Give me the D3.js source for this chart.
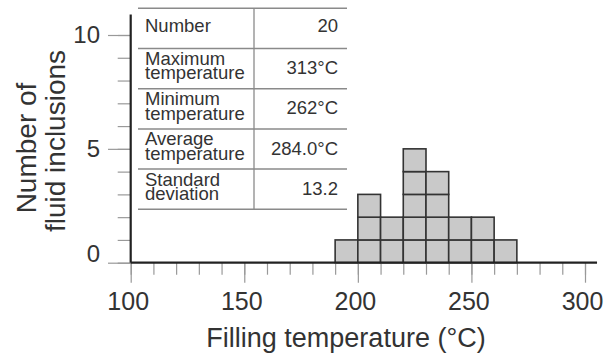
<!DOCTYPE html>
<html>
<head>
<meta charset="utf-8">
<script src="https://cdn.jsdelivr.net/npm/d3@7"></script>
<style>
  html, body { margin: 0; padding: 0; background: #fff; }
  text { font-family: "Liberation Sans", Arial, sans-serif; fill: #333; }
</style>
</head>
<body>
<svg id="chart" width="612" height="358"></svg>
<script>
// histogram bins (lower edge, degC) and counts
var binStarts = [190, 200, 210, 220, 230, 240, 250, 260];
var binCounts = [1, 3, 2, 5, 4, 2, 2, 1];
var binWidth = 10;

var xTickLabels = [100, 150, 200, 250, 300];
var yTickLabels = [0, 5, 10];

// summary table
var statNames = [["Number"], ["Maximum", "temperature"], ["Minimum", "temperature"],
                 ["Average", "temperature"], ["Standard", "deviation"]];
var statValues = ["20", "313°C", "262°C", "284.0°C", "13.2"];

var svg = d3.select('#chart');

// scales: 100 -> 130.7px, 300 -> 585px ; 0 -> 262.7px, 10 -> 35px
var x = d3.scaleLinear().domain([100, 300]).range([130.7, 585]);
var y = d3.scaleLinear().domain([0, 10]).range([262.7, 35]);

// unit cells of the histogram
var cells = [];
binStarts.forEach(function(b, i) {
    for (var k = 0; k < binCounts[i]; k++) cells.push({ x0: b, y0: k });
});
svg.append('g').selectAll('rect')
    .data(cells)
    .enter().append('rect')
    .attr('x', function(d) { return x(d.x0); })
    .attr('y', function(d) { return y(d.y0 + 1); })
    .attr('width', function(d) { return x(d.x0 + binWidth) - x(d.x0); })
    .attr('height', function(d) { return y(d.y0) - y(d.y0 + 1); })
    .style('fill', '#c9c9c9')
    .style('stroke', '#333')
    .style('stroke-width', 1.6);

// x axis ticks: minor every 10, major every 50
var xMinor = d3.axisBottom(x).tickValues(d3.range(100, 301, 10)).tickSize(12).tickFormat('');
var xMajor = d3.axisBottom(x).tickValues(xTickLabels).tickSize(20).tickPadding(10).tickFormat(d3.format('d'));
var gxMinor = svg.append('g').attr('transform', 'translate(0,' + y(0) + ')').call(xMinor);
var gx = svg.append('g').attr('transform', 'translate(0,' + y(0) + ')').call(xMajor);
[gxMinor, gx].forEach(function(g) {
    g.select('.domain').remove();
    g.selectAll('line').style('stroke', '#999').style('stroke-width', 1.2);
});
gx.selectAll('text')
    .style('font-size', '25px')
    .style('font-family', '"Liberation Sans", Arial, sans-serif')
    .style('fill', '#333')
    .attr('dx', -3);

// y axis ticks: minor every 1, major every 5
var yMinor = d3.axisLeft(y).tickValues(d3.range(0, 11, 1)).tickSize(13).tickFormat('');
var yMajor = d3.axisLeft(y).tickValues(yTickLabels).tickSize(22.7).tickPadding(8).tickFormat(d3.format('d'));
var gyMinor = svg.append('g').attr('transform', 'translate(' + x(100) + ',0)').call(yMinor);
var gy = svg.append('g').attr('transform', 'translate(' + x(100) + ',0)').call(yMajor);
[gyMinor, gy].forEach(function(g) {
    g.select('.domain').remove();
    g.selectAll('line').style('stroke', '#999').style('stroke-width', 1.2);
});
gy.selectAll('text')
    .style('font-size', '24px')
    .style('font-family', '"Liberation Sans", Arial, sans-serif')
    .style('fill', '#333')
    .attr('dy', function(d) { return d === 0 ? '-0.05em' : '0.32em'; });

// main axis lines
svg.append('line')
    .attr('x1', x(100)).attr('x2', x(305.3))
    .attr('y1', y(0)).attr('y2', y(0))
    .style('stroke', '#222').style('stroke-width', 2.2);
svg.append('line')
    .attr('x1', x(100)).attr('x2', x(100))
    .attr('y1', y(0)).attr('y2', y(10.9))
    .style('stroke', '#222').style('stroke-width', 2.2);

// axis titles
svg.append('text')
    .attr('x', 346).attr('y', 347)
    .attr('text-anchor', 'middle')
    .style('font-size', '27px')
    .text('Filling temperature (°C)');

svg.append('text')
    .attr('transform', 'translate(36,148) rotate(-90)')
    .attr('text-anchor', 'middle')
    .style('font-size', '28px')
    .text('Number of');
svg.append('text')
    .attr('transform', 'translate(65,141) rotate(-90)')
    .attr('text-anchor', 'middle')
    .style('font-size', '28px')
    .text('fluid inclusions');

// statistics table
var tbl = { left: 138, right: 347, mid: 254, top: 8.3, rowH: 40.2 };
var gt = svg.append('g');
d3.range(statNames.length + 1).forEach(function(i) {
    gt.append('line')
        .attr('x1', tbl.left).attr('x2', tbl.right)
        .attr('y1', tbl.top + i * tbl.rowH).attr('y2', tbl.top + i * tbl.rowH)
        .style('stroke', '#8a8a8a').style('stroke-width', 1.5);
});
gt.append('line')
    .attr('x1', tbl.mid).attr('x2', tbl.mid)
    .attr('y1', tbl.top).attr('y2', tbl.top + statNames.length * tbl.rowH)
    .style('stroke', '#8a8a8a').style('stroke-width', 1.3);

statNames.forEach(function(lines, i) {
    var rowTop = tbl.top + i * tbl.rowH;
    var t = gt.append('text').style('font-size', '18.5px');
    if (lines.length === 1) {
        t.append('tspan').attr('x', 145).attr('y', rowTop + 23.5).text(lines[0]);
    } else {
        t.append('tspan').attr('x', 145).attr('y', rowTop + 16.5).text(lines[0]);
        t.append('tspan').attr('x', 145).attr('y', rowTop + 30.8).text(lines[1]);
    }
    gt.append('text')
        .attr('x', 338).attr('y', rowTop + (lines.length === 1 ? 23.5 : 25.7))
        .attr('text-anchor', 'end')
        .style('font-size', '18.5px')
        .text(statValues[i]);
});
</script>
</body>
</html>
